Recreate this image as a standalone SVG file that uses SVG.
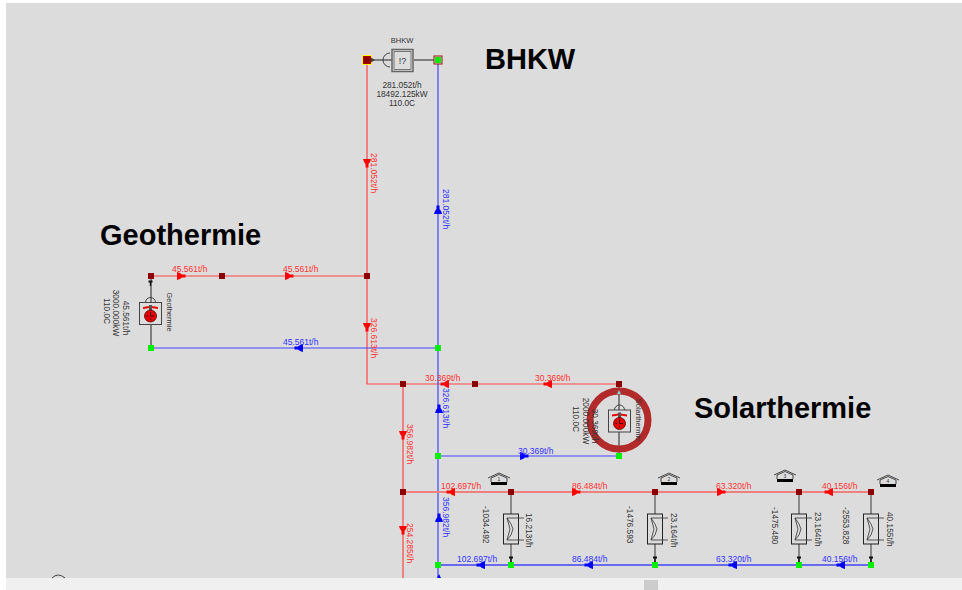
<svg xmlns="http://www.w3.org/2000/svg" width="962" height="590" viewBox="0 0 962 590">
<style>
text{font-family:"Liberation Sans",Arial,sans-serif;font-size:8.5px}
.t{font-size:29px;font-weight:bold;fill:#000}
.r{fill:#f33}.b{fill:#33f}.k{fill:#333;font-size:8.300px}
.m{text-anchor:middle}
.lr{fill:none;stroke:#f44;stroke-width:1.2}
.lb{fill:none;stroke:#44f;stroke-width:1.2}
.tr{fill:none;stroke:#f08080;stroke-width:2}
.tb{fill:none;stroke:#6a6af0;stroke-width:2}
.s{fill:none;stroke:#222;stroke-width:1}
.g{fill:none;stroke:#666;stroke-width:1.4}
</style>
<defs>
<rect id="jr" x="-3" y="-3" width="6" height="6" fill="#8b0000"/>
<rect id="jg" x="-3" y="-3" width="6" height="6" fill="#00f000"/>
<path id="ar" d="M-4-4L-1-3L1-1.500H4.500V1.500H1L-1 3L-4 4Z" fill="#f00"/>
<path id="ab" d="M-4-4L-1-3L1-1.500H4.500V1.500H1L-1 3L-4 4Z" fill="#00f"/>
<path id="sa" d="M-2-2.500H2V-.5H.7V3H-.7V-.5H-2Z" fill="#111"/>
<g id="heat">
<rect x="-7.500" y="-15" width="15" height="30" fill="none" stroke="#222" stroke-width="1"/>
<path d="M13-11H-4L-1 0L-4 11H13M-4-11L0-5L2 0L0 6L-4 11" fill="none" stroke="#333" stroke-width=".8"/>
</g>
<g id="house">
<path d="M-11-3L0-8L11-3M-8-3L0-6.500L8-3" fill="none" stroke="#222" stroke-width=".8"/>
<path d="M-8-3V1M8-3V1" fill="none" stroke="#222" stroke-width=".8"/>
<rect x="-8" y="1" width="16" height="3" fill="#000"/>
</g>
<g id="pump">
<path d="M-5-11A5 5 0 0 1 5-11" fill="none" stroke="#333" stroke-width=".9"/>
<rect x="-11" y="-11" width="22" height="22" fill="#ddd" stroke="#444" stroke-width="1"/>
<path d="M-7.500-6.500L-1-7.500H1L7.500-6.500V-4.500L1-5.500H-1L-7.500-4.500Z" fill="#e00"/>
<rect x="-1.500" y="-8.500" width="3" height="6" fill="#555"/>
<circle cx="0" cy="2.500" r="6" fill="#e80000" stroke="#500" stroke-width=".8"/>
<path d="M0-1.500V2.500H3.500M-4 2.500H-2.500M0 5V6.500" fill="none" stroke="#200" stroke-width=".9"/>
</g>
</defs>
<rect width="962" height="590" fill="#fff"/>
<rect x="6" y="3" width="956" height="575" fill="#dcdcdc"/>
<rect x="6" y="578" width="956" height="12" fill="#f0f0f0"/>
<rect x="644" y="580" width="14" height="10" fill="#ccc"/>
<path d="M52 578Q58 572 65 578" fill="none" stroke="#444" stroke-width="1"/>

<g id="connectors">
<path class="lr" d="M367 60V384H619"/>
<path class="lb" d="M438 60V578"/>
<path class="lr" d="M151 276H367"/>
<path class="lb" d="M151 348H438"/>
<path class="lr" d="M403 384V578"/>
<path class="lb" d="M438 456H619"/>
<path class="tr" d="M403 492H871"/>
<path class="tb" d="M438 565H871"/>
<path class="s" d="M151 276V348M619 384V456"/>
<path class="g" d="M511 492V514M511 544V565M655 492V514M655 544V565M799 492V514M799 544V565M871 492V514M871 544V565"/>
<use href="#ar" transform="translate(181,276)"/>
<use href="#ar" transform="translate(289,276)"/>
<use href="#ab" transform="translate(299,348) rotate(180)"/>
<use href="#ar" transform="translate(367,163) rotate(90)"/>
<use href="#ab" transform="translate(438,210) rotate(-90)"/>
<use href="#ar" transform="translate(367,327) rotate(90)"/>
<use href="#ab" transform="translate(439,409) rotate(-90)"/>
<use href="#ar" transform="translate(445,384) rotate(180)"/>
<use href="#ar" transform="translate(548,384) rotate(180)"/>
<use href="#ab" transform="translate(524,456)"/>
<use href="#ar" transform="translate(403,435) rotate(90)"/>
<use href="#ar" transform="translate(403,530) rotate(90)"/>
<use href="#ab" transform="translate(439,518) rotate(-90)"/>
<use href="#ar" transform="translate(451,492) rotate(180)"/>
<use href="#ar" transform="translate(576,492)"/>
<use href="#ar" transform="translate(721,492)"/>
<use href="#ar" transform="translate(829,492) rotate(180)"/>
<use href="#ab" transform="translate(481,565) rotate(180)"/>
<use href="#ab" transform="translate(589,565) rotate(180)"/>
<use href="#ab" transform="translate(733,565) rotate(180)"/>
<use href="#ab" transform="translate(841,565) rotate(180)"/>
<path d="M439 574L441 578H437Z" fill="#00f"/>
<text class="r" x="172" y="272">45.561t/h</text>
<text class="r" x="283" y="272">45.561t/h</text>
<text class="b" x="283" y="345">45.561t/h</text>
<text class="r" x="425" y="381">30.369t/h</text>
<text class="r" x="535" y="381">30.369t/h</text>
<text class="b" x="518" y="454">30.369t/h</text>
<text class="r" x="441" y="489">102.697t/h</text>
<text class="r" x="572" y="489">86.484t/h</text>
<text class="r" x="716" y="489">63.320t/h</text>
<text class="r" x="822" y="489">40.156t/h</text>
<text class="b" x="457" y="562">102.697t/h</text>
<text class="b" x="572" y="562">86.484t/h</text>
<text class="b" x="716" y="562">63.320t/h</text>
<text class="b" x="822" y="562">40.156t/h</text>
<text class="r" transform="translate(371,153) rotate(90)">281.052t/h</text>
<text class="b" transform="translate(443,189) rotate(90)">281.052t/h</text>
<text class="r" transform="translate(371,318) rotate(90)">326.613t/h</text>
<text class="b" transform="translate(443,388) rotate(90)">326.613t/h</text>
<text class="r" transform="translate(407,424) rotate(90)">356.982t/h</text>
<text class="r" transform="translate(407,523) rotate(90)">254.285t/h</text>
<text class="b" transform="translate(443,497) rotate(90)">356.982t/h</text>
</g>

<g id="node-bhkw">
<path class="s" d="M367 60H392M414 60H438"/>
<path d="M390 53A7 7 0 0 0 390 67" fill="none" stroke="#333" stroke-width=".9"/>
<rect x="392" y="49.500" width="21" height="22" fill="#ddd" stroke="#666" stroke-width="1.500"/>
<rect x="394" y="51.500" width="17" height="18" fill="none" stroke="#333" stroke-width=".6"/>
<text class="k m" x="402.500" y="64" style="font-size:9px">!?</text>
<rect x="362.500" y="55.500" width="9" height="9" fill="none" stroke="#ff0" stroke-width="1"/>
<rect x="363.500" y="56.500" width="7" height="7" fill="#e8b0b0" stroke="#a00" stroke-width="1"/>
<use href="#jr" x="367" y="60"/>
<path d="M371 57.500V62.500L375 60Z" fill="#443"/>
<rect x="434" y="56" width="8" height="8" fill="#dcdcdc" stroke="#a01010" stroke-width="1"/>
<use href="#jg" x="438" y="60"/>
<text class="k m" x="402" y="43" style="font-size:7.500px">BHKW</text>
<text class="k m" x="402" y="88">281.052t/h</text>
<text class="k m" x="402" y="97">18492.125kW</text>
<text class="k m" x="402" y="106">110.0C</text>
<text class="t" x="485" y="69">BHKW</text>
</g>

<g id="node-geothermie">
<use href="#pump" x="150.500" y="313.500"/>
<use href="#sa" transform="translate(150.500,283)"/>
<use href="#jr" x="151" y="276"/>
<use href="#jg" x="151" y="348"/>
<text class="k m" transform="translate(123,318) rotate(90)">45.561t/h</text>
<text class="k m" transform="translate(113,313) rotate(90)">3000.000kW</text>
<text class="k m" transform="translate(104,311) rotate(90)">110.0C</text>
<text class="k m" transform="translate(167,312) rotate(90)" style="font-size:7.500px">Geothermie</text>
<text class="t" x="100" y="245">Geothermie</text>
</g>

<g id="junctions">
<use href="#jr" x="222" y="276"/>
<use href="#jr" x="367" y="276"/>
<use href="#jg" x="438" y="348"/>
<use href="#jr" x="403" y="384"/>
<use href="#jr" x="475" y="384"/>
<use href="#jg" x="438" y="456"/>
<use href="#jr" x="403" y="492"/>
<use href="#jg" x="438" y="565"/>
</g>

<g id="node-solarthermie">
<circle cx="619" cy="420" r="29" fill="none" stroke="#b22a2a" stroke-width="7"/>
<use href="#pump" x="619.500" y="421"/>
<use href="#jr" x="619" y="384"/>
<use href="#jg" x="619" y="456"/>
<path d="M617 394L619 390L621 394Z" fill="#7dd"/>
<text class="k m" transform="translate(573,419) rotate(90)">110.0C</text>
<text class="k m" transform="translate(583,421) rotate(90)">2000.000kW</text>
<text class="k m" transform="translate(592,426) rotate(90)">30.369t/h</text>
<text class="k m" transform="translate(636,420) rotate(90)" style="font-size:7.500px">Solarthermie</text>
<text class="t" x="694" y="418">Solarthermie</text>
</g>

<g id="node-consumer-1">
<use href="#heat" x="511" y="529"/>
<use href="#house" x="499" y="481"/>
<text class="k m" x="499" y="481" style="font-size:5px">1</text>
<use href="#sa" transform="translate(511,559)"/>
<use href="#jr" x="511" y="492"/>
<use href="#jg" x="511" y="565"/>
<text class="k" transform="translate(483,506) rotate(90)">-1034.492</text>
<text class="k" transform="translate(526,513) rotate(90)">16.213t/h</text>
</g>
<g id="node-consumer-2">
<use href="#heat" x="655" y="529"/>
<use href="#house" x="669" y="481"/>
<text class="k m" x="669" y="481" style="font-size:5px">2</text>
<use href="#sa" transform="translate(655,559)"/>
<use href="#jr" x="655" y="492"/>
<use href="#jg" x="655" y="565"/>
<text class="k" transform="translate(627,506) rotate(90)">-1476.593</text>
<text class="k" transform="translate(671,513) rotate(90)">23.164t/h</text>
</g>
<g id="node-consumer-3">
<use href="#heat" x="799" y="529"/>
<use href="#house" x="785" y="478"/>
<text class="k m" x="785" y="478" style="font-size:5px">3</text>
<use href="#sa" transform="translate(799,559)"/>
<use href="#jr" x="799" y="492"/>
<use href="#jg" x="799" y="565"/>
<text class="k" transform="translate(772,507) rotate(90)">-1475.480</text>
<text class="k" transform="translate(815,512) rotate(90)">23.164t/h</text>
</g>
<g id="node-consumer-4">
<use href="#heat" x="871" y="529"/>
<use href="#house" x="888" y="483"/>
<text class="k m" x="888" y="483" style="font-size:5px">4</text>
<use href="#sa" transform="translate(871,559)"/>
<use href="#jr" x="871" y="492"/>
<use href="#jg" x="871" y="565"/>
<text class="k" transform="translate(843,507) rotate(90)">-2553.828</text>
<text class="k" transform="translate(887,512) rotate(90)">40.155t/h</text>
</g>
</svg>
